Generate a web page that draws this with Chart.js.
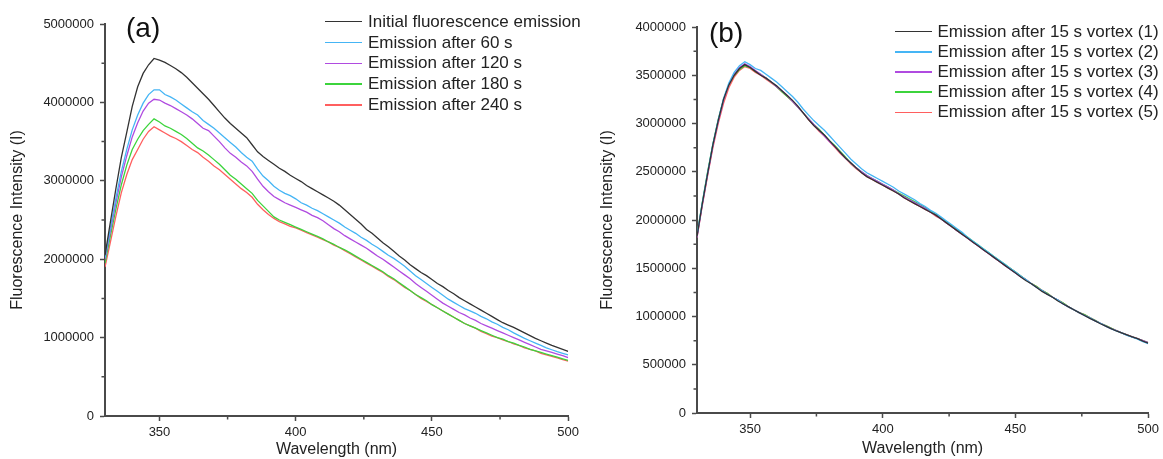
<!DOCTYPE html>
<html>
<head>
<meta charset="utf-8">
<script src="https://cdn.jsdelivr.net/npm/chart.js"></script>
<style>
  html, body { margin: 0; padding: 0; background: #fff; }
  body { width: 1163px; height: 459px; position: relative; overflow: hidden;
         font-family: "Liberation Sans", Arial, sans-serif; color: #222; }
  canvas { position: absolute; top: 0; }
  #chartA { left: 0; }
  #chartB { left: 583px; }
  .panel { position: absolute; font-size: 28px; line-height: 28px; color: #111; }
  .lgline { position: absolute; height: 1.5px; }
  .lgtext { position: absolute; font-size: 17px; line-height: 20px; white-space: nowrap; color: #222; }
</style>
</head>
<body>
<canvas id="chartA" width="583" height="459"></canvas>
<canvas id="chartB" width="580" height="459"></canvas>
<div class="panel" style="left:126px;top:14px;">(a)</div>
<div class="panel" style="left:709px;top:19px;">(b)</div>
<div id="legendA"></div>
<div id="legendB"></div>
<script>
// ---------- DATA (intensity values in units of 10^6) ----------
const wavelengths = [
  330,332,334,336,338,340,342,344,346,348,
  350,352,354,356,358,360,362,364,366,368,
  370,372,374,376,378,380,382,384,386,388,
  390,392,394,396,398,400,402,404,406,408,
  410,412,414,416,418,420,422,424,426,428,
  430,432,434,436,438,440,442,444,446,448,
  450,452,454,456,458,460,462,464,466,468,
  470,472,474,476,478,480,482,484,486,488,
  490,492,494,496,498,500];

// Panel (a)
const initialA = [
  2.05,2.48,2.90,3.30,3.62,3.95,4.20,4.37,4.48,4.56,
  4.54,4.51,4.47,4.43,4.38,4.32,4.25,4.18,4.11,4.04,
  3.96,3.88,3.80,3.73,3.67,3.61,3.55,3.46,3.37,3.31,
  3.26,3.21,3.16,3.12,3.07,3.03,2.99,2.94,2.90,2.86,
  2.82,2.78,2.74,2.69,2.63,2.57,2.51,2.45,2.38,2.33,
  2.27,2.21,2.16,2.10,2.04,1.99,1.93,1.88,1.83,1.79,
  1.74,1.69,1.65,1.60,1.56,1.51,1.47,1.43,1.39,1.35,
  1.31,1.27,1.23,1.19,1.16,1.13,1.095,1.06,1.025,0.99,
  0.96,0.93,0.90,0.875,0.85,0.825];
const after60A = [
  2.02,2.40,2.78,3.12,3.40,3.65,3.84,3.99,4.10,4.16,
  4.16,4.10,4.07,4.03,3.98,3.93,3.88,3.84,3.77,3.72,
  3.67,3.61,3.55,3.49,3.43,3.36,3.30,3.25,3.15,3.06,
  3.00,2.93,2.88,2.84,2.81,2.77,2.72,2.69,2.65,2.62,
  2.58,2.54,2.50,2.46,2.41,2.37,2.33,2.28,2.24,2.19,
  2.15,2.10,2.05,2.01,1.96,1.91,1.85,1.79,1.74,1.69,
  1.64,1.59,1.54,1.49,1.45,1.41,1.37,1.34,1.31,1.27,
  1.24,1.20,1.17,1.13,1.10,1.06,1.025,0.99,0.96,0.93,
  0.90,0.87,0.845,0.82,0.80,0.78];
const after120A = [
  2.00,2.36,2.72,3.05,3.32,3.56,3.74,3.89,3.99,4.04,
  4.03,3.99,3.96,3.92,3.88,3.84,3.79,3.73,3.67,3.64,
  3.57,3.50,3.42,3.35,3.30,3.24,3.19,3.12,3.02,2.93,
  2.86,2.80,2.76,2.72,2.69,2.66,2.63,2.60,2.56,2.53,
  2.49,2.44,2.39,2.35,2.30,2.26,2.22,2.18,2.14,2.09,
  2.04,2.00,1.95,1.90,1.85,1.80,1.75,1.69,1.64,1.59,
  1.54,1.49,1.44,1.40,1.36,1.32,1.29,1.25,1.22,1.18,
  1.15,1.12,1.09,1.06,1.03,1.00,0.97,0.94,0.91,0.88,
  0.85,0.83,0.81,0.79,0.77,0.745];
const after180A = [
  1.95,2.30,2.64,2.95,3.20,3.40,3.53,3.64,3.72,3.79,
  3.75,3.70,3.67,3.63,3.59,3.54,3.48,3.42,3.38,3.33,
  3.27,3.21,3.14,3.07,3.02,2.96,2.90,2.84,2.75,2.68,
  2.61,2.54,2.50,2.47,2.44,2.41,2.38,2.35,2.32,2.29,
  2.26,2.22,2.19,2.15,2.12,2.08,2.04,2.00,1.96,1.92,
  1.88,1.84,1.79,1.75,1.70,1.65,1.60,1.55,1.51,1.47,
  1.42,1.38,1.34,1.30,1.26,1.22,1.18,1.15,1.12,1.09,
  1.06,1.03,1.00,0.98,0.95,0.93,0.90,0.88,0.85,0.83,
  0.81,0.79,0.77,0.75,0.73,0.71];
const after240A = [
  1.90,2.22,2.55,2.85,3.08,3.27,3.40,3.53,3.63,3.69,
  3.65,3.61,3.57,3.54,3.50,3.45,3.40,3.36,3.30,3.25,
  3.19,3.14,3.08,3.02,2.96,2.90,2.85,2.79,2.70,2.63,
  2.57,2.52,2.48,2.45,2.42,2.40,2.37,2.34,2.31,2.28,
  2.25,2.22,2.18,2.15,2.11,2.07,2.03,1.99,1.95,1.91,
  1.87,1.83,1.78,1.74,1.69,1.64,1.60,1.55,1.50,1.46,
  1.42,1.38,1.34,1.30,1.26,1.22,1.18,1.15,1.12,1.08,
  1.05,1.02,1.00,0.97,0.95,0.92,0.90,0.87,0.85,0.83,
  0.80,0.78,0.76,0.74,0.72,0.70];

// Panel (b)
const vortex1B = [
  1.83,2.17,2.48,2.78,3.03,3.25,3.40,3.50,3.57,3.61,
  3.58,3.54,3.50,3.47,3.43,3.39,3.34,3.29,3.24,3.18,
  3.11,3.04,2.98,2.93,2.88,2.82,2.76,2.70,2.64,2.59,
  2.54,2.49,2.45,2.42,2.39,2.36,2.33,2.30,2.27,2.23,
  2.20,2.17,2.14,2.11,2.08,2.05,2.01,1.97,1.93,1.89,
  1.85,1.81,1.77,1.73,1.69,1.65,1.61,1.57,1.53,1.49,
  1.45,1.41,1.37,1.34,1.30,1.26,1.23,1.20,1.16,1.13,
  1.10,1.07,1.04,1.01,0.98,0.955,0.925,0.90,0.875,0.85,
  0.83,0.81,0.79,0.77,0.745,0.725];
const vortex2B = [
  1.84,2.18,2.49,2.79,3.04,3.26,3.42,3.53,3.60,3.64,
  3.61,3.57,3.55,3.51,3.47,3.43,3.38,3.33,3.28,3.22,
  3.15,3.09,3.03,2.98,2.93,2.87,2.81,2.75,2.69,2.63,
  2.58,2.53,2.49,2.46,2.43,2.40,2.37,2.34,2.30,2.27,
  2.24,2.21,2.17,2.14,2.10,2.07,2.03,1.99,1.95,1.91,
  1.87,1.82,1.78,1.74,1.70,1.66,1.62,1.58,1.54,1.50,
  1.46,1.42,1.38,1.34,1.30,1.27,1.23,1.20,1.17,1.13,
  1.10,1.07,1.04,1.01,0.985,0.955,0.93,0.90,0.875,0.85,
  0.83,0.805,0.785,0.765,0.74,0.72];
const vortex3B = [
  1.82,2.16,2.47,2.77,3.02,3.24,3.40,3.51,3.58,3.62,
  3.59,3.55,3.51,3.47,3.43,3.38,3.34,3.29,3.23,3.17,
  3.11,3.05,2.99,2.93,2.87,2.81,2.76,2.70,2.64,2.59,
  2.54,2.50,2.46,2.43,2.40,2.37,2.34,2.31,2.27,2.24,
  2.21,2.18,2.15,2.12,2.08,2.05,2.01,1.97,1.93,1.89,
  1.85,1.81,1.77,1.73,1.69,1.65,1.61,1.57,1.53,1.49,
  1.45,1.41,1.38,1.34,1.30,1.27,1.23,1.20,1.17,1.13,
  1.10,1.07,1.04,1.01,0.985,0.955,0.93,0.90,0.875,0.855,
  0.83,0.81,0.79,0.77,0.75,0.73];
const vortex4B = [
  1.84,2.18,2.50,2.79,3.04,3.25,3.40,3.50,3.56,3.60,
  3.58,3.54,3.51,3.47,3.43,3.38,3.33,3.28,3.23,3.17,
  3.11,3.05,2.99,2.94,2.88,2.82,2.77,2.71,2.65,2.59,
  2.54,2.50,2.46,2.43,2.40,2.37,2.34,2.31,2.28,2.25,
  2.22,2.19,2.16,2.13,2.09,2.06,2.02,1.98,1.94,1.90,
  1.86,1.82,1.78,1.74,1.70,1.66,1.62,1.58,1.54,1.50,
  1.46,1.42,1.38,1.34,1.31,1.27,1.24,1.20,1.17,1.14,
  1.10,1.07,1.04,1.02,0.99,0.96,0.93,0.905,0.88,0.855,
  0.83,0.81,0.79,0.77,0.75,0.73];
const vortex5B = [
  1.82,2.15,2.46,2.75,3.00,3.21,3.37,3.48,3.55,3.59,
  3.57,3.53,3.50,3.46,3.42,3.38,3.33,3.28,3.23,3.17,
  3.11,3.04,2.98,2.92,2.87,2.81,2.75,2.69,2.64,2.58,
  2.53,2.49,2.45,2.42,2.39,2.36,2.33,2.30,2.27,2.23,
  2.20,2.17,2.14,2.11,2.08,2.04,2.01,1.97,1.93,1.89,
  1.85,1.81,1.77,1.73,1.69,1.65,1.61,1.57,1.53,1.50,
  1.46,1.42,1.38,1.34,1.31,1.27,1.24,1.20,1.17,1.14,
  1.10,1.07,1.04,1.02,0.99,0.96,0.93,0.905,0.88,0.855,
  0.83,0.81,0.79,0.77,0.75,0.73];

const labelsA = ['Initial fluorescence emission','Emission after 60 s','Emission after 120 s',
                 'Emission after 180 s','Emission after 240 s'];
const labelsB = ['Emission after 15 s vortex (1)','Emission after 15 s vortex (2)',
                 'Emission after 15 s vortex (3)','Emission after 15 s vortex (4)',
                 'Emission after 15 s vortex (5)'];
const seriesColors = ['#333333','#45b5f5','#b04be0','#3cd43c','#ff5f5f'];

const xTickValues = [350,400,450,500];
const xMinorTickValues = [375,425,475];
const yTickValuesA = [0,1000000,2000000,3000000,4000000,5000000];
const yMinorTickValuesA = [500000,1500000,2500000,3500000,4500000];
const yTickValuesB = [0,500000,1000000,1500000,2000000,2500000,3000000,3500000,4000000];
const yMinorTickValuesB = [250000,750000,1250000,1750000,2250000,2750000,3250000,3750000];
const UNIT = 1e6;

// ---------- CHART BUILDING ----------
const FONT = '"Liberation Sans", Arial, sans-serif';
const AXIS = '#4a4a4a';

const minorTicksPlugin = {
  id: 'minorTicks',
  afterDraw(chart, args, opts) {
    const ctx = chart.ctx, ca = chart.chartArea;
    ctx.save();
    ctx.strokeStyle = AXIS;
    ctx.lineWidth = 1.5;
    ctx.beginPath();
    (opts.x || []).forEach(v => {
      const px = chart.scales.x.getPixelForValue(v);
      ctx.moveTo(px, ca.bottom); ctx.lineTo(px, ca.bottom + 3.5);
    });
    (opts.y || []).forEach(v => {
      const py = chart.scales.y.getPixelForValue(v);
      ctx.moveTo(ca.left - 3.5, py); ctx.lineTo(ca.left, py);
    });
    ctx.stroke();
    ctx.restore();
  }
};

function buildChart(id, seriesList, labels, cfg) {
  const datasets = seriesList.map((s, i) => ({
    label: labels[i],
    data: wavelengths.map((w, k) => ({ x: w, y: s[k] * UNIT })),
    borderColor: seriesColors[i],
    backgroundColor: seriesColors[i],
    borderWidth: 1.3,
    pointRadius: 0,
    tension: 0,
    fill: false
  }));
  return new Chart(document.getElementById(id), {
    type: 'line',
    data: { datasets },
    plugins: [minorTicksPlugin],
    options: {
      responsive: false,
      animation: false,
      events: [],
      layout: { padding: cfg.padding },
      plugins: {
        legend: { display: false },
        tooltip: { enabled: false },
        minorTicks: { x: xMinorTickValues, y: cfg.yMinor }
      },
      scales: {
        x: {
          type: 'linear', min: 330, max: 500,
          afterBuildTicks: s => { s.ticks = xTickValues.map(v => ({ value: v })); },
          afterFit: s => { s.height = cfg.xHeight; },
          grid: { display: true, drawOnChartArea: false, drawTicks: true, tickLength: 5,
                  tickColor: AXIS, tickWidth: 1.5 },
          border: { display: true, color: AXIS, width: 2 },
          ticks: { font: { family: FONT, size: 13 }, color: '#222', padding: 4,
                   maxRotation: 0, autoSkip: false },
          title: { display: true, text: 'Wavelength (nm)', color: '#222',
                   font: { family: FONT, size: 16 }, padding: { top: 0, bottom: cfg.xTitlePad } }
        },
        y: {
          type: 'linear', min: 0, max: cfg.yMax,
          afterBuildTicks: s => { s.ticks = cfg.yTicks.map(v => ({ value: v })); },
          afterFit: s => { s.width = cfg.yWidth; },
          grid: { display: true, drawOnChartArea: false, drawTicks: true, tickLength: 5,
                  tickColor: AXIS, tickWidth: 1.5 },
          border: { display: true, color: AXIS, width: 2 },
          ticks: { font: { family: FONT, size: 13 }, color: '#222', padding: 6,
                   autoSkip: false, callback: v => String(v) },
          title: { display: true, text: 'Fluorescence Intensity (I)', color: '#222',
                   font: { family: FONT, size: 16 }, padding: { top: cfg.yTitlePad, bottom: 0 } }
        }
      }
    }
  });
}

buildChart('chartA', [initialA, after60A, after120A, after180A, after240A], labelsA, {
  padding: { left: 0, right: 13, top: 24, bottom: 0 },
  xHeight: 43, yWidth: 105, yMax: 5000000,
  yTicks: yTickValuesA, yMinor: yMinorTickValuesA,
  xTitlePad: 0, yTitlePad: 8
});
buildChart('chartB', [vortex1B, vortex2B, vortex3B, vortex4B, vortex5B], labelsB, {
  padding: { left: 0, right: 12, top: 27, bottom: 0 },
  xHeight: 46, yWidth: 114, yMax: 4000000,
  yTicks: yTickValuesB, yMinor: yMinorTickValuesB,
  xTitlePad: 1, yTitlePad: 15
});

// ---------- HTML legends ----------
function buildLegend(containerId, labels, lineX, lineLen, textX, firstY, step) {
  const box = document.getElementById(containerId);
  labels.forEach((t, i) => {
    const cy = firstY + i * step;
    const ln = document.createElement('div');
    ln.className = 'lgline';
    ln.style.left = lineX + 'px';
    ln.style.width = lineLen + 'px';
    ln.style.top = (cy - 0.75) + 'px';
    ln.style.background = seriesColors[i];
    box.appendChild(ln);
    const tx = document.createElement('div');
    tx.className = 'lgtext';
    tx.style.left = textX + 'px';
    tx.style.top = (cy - 10) + 'px';
    tx.textContent = t;
    box.appendChild(tx);
  });
}
buildLegend('legendA', labelsA, 325, 37, 368, 21.7, 20.8);
buildLegend('legendB', labelsB, 895, 37, 937.5, 31.7, 20.15);
</script>
</body>
</html>
